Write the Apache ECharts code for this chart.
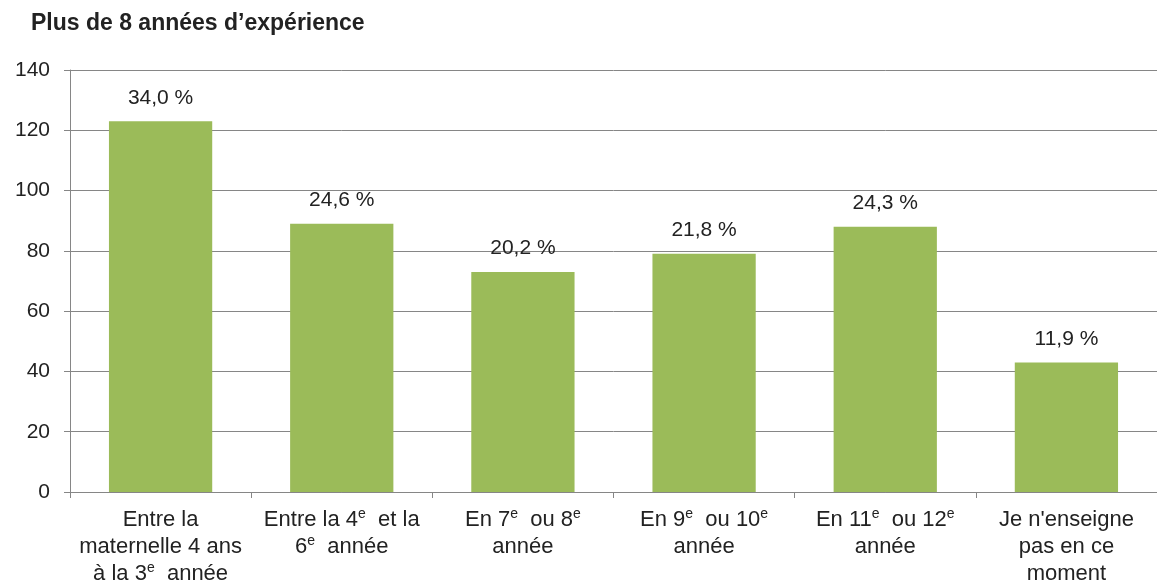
<!DOCTYPE html>
<html>
<head>
<meta charset="utf-8">
<script src="https://cdn.jsdelivr.net/npm/echarts@6/dist/echarts.min.js"></script>
<style>
  html, body { margin: 0; padding: 0; background: #fff; }
  #chart { width: 1157px; height: 588px; }
</style>
</head>
<body>
<div id="chart"></div>
<script>
// categories use {sup|e} for the superscript "e"
var categories = [
  'Entre la\nmaternelle 4 ans\nà la 3{sup|e}  année',
  'Entre la 4{sup|e}  et la\n6{sup|e}  année',
  'En 7{sup|e}  ou 8{sup|e}\nannée',
  'En 9{sup|e}  ou 10{sup|e}\nannée',
  'En 11{sup|e}  ou 12{sup|e}\nannée',
  'Je n\'enseigne\npas en ce\nmoment'
]
var counts = [123, 89, 73, 79, 88, 43]
var percentLabels = ['34,0 %', '24,6 %', '20,2 %', '21,8 %', '24,3 %', '11,9 %']
var yTicks = [0, 20, 40, 60, 80, 100, 120, 140]

var chart = echarts.init(document.getElementById('chart'))
var font = 'Liberation Sans, Arial, sans-serif'
var textColor = '#222'

var option = {
  animation: false,
  title: {
    text: 'Plus de 8 années d\u2019expérience',
    left: 26,
    top: 7,
    textStyle: {
      fontFamily: font,
      fontSize: 23,
      fontWeight: 'bold',
      color: textColor
    }
  },
  grid: {
    left: 70,
    right: -5,
    top: 70,
    bottom: 96,
    containLabel: false
  },
  xAxis: {
    type: 'category',
    data: categories,
    axisLine: { lineStyle: { color: '#868686', width: 1 } },
    axisTick: { show: true, length: 6, lineStyle: { color: '#868686' } },
    axisLabel: {
      interval: 0,
      margin: 14,
      fontFamily: font,
      fontSize: 22,
      color: textColor,
      lineHeight: 27,
      rich: {
        sup: {
          fontFamily: font,
          fontSize: 14,
          color: textColor,
          padding: [0, 0, 10, 0]
        }
      }
    }
  },
  yAxis: {
    type: 'value',
    min: yTicks[0],
    max: yTicks[yTicks.length - 1],
    interval: 20,
    axisLine: { show: true, lineStyle: { color: '#868686', width: 1 } },
    axisTick: { show: true, length: 6, lineStyle: { color: '#868686' } },
    axisLabel: {
      margin: 20,
      fontFamily: font,
      fontSize: 21,
      color: textColor
    },
    splitLine: { show: true, lineStyle: { color: '#868686', width: 1 } }
  },
  series: [
    {
      type: 'bar',
      data: counts,
      barWidth: '57%',
      itemStyle: { color: '#9BBB59' },
      label: {
        show: true,
        position: 'top',
        distance: 13,
        fontFamily: font,
        fontSize: 21,
        color: textColor,
        formatter: function (p) { return percentLabels[p.dataIndex] }
      }
    }
  ]
}

chart.setOption(option)
</script>
</body>
</html>
